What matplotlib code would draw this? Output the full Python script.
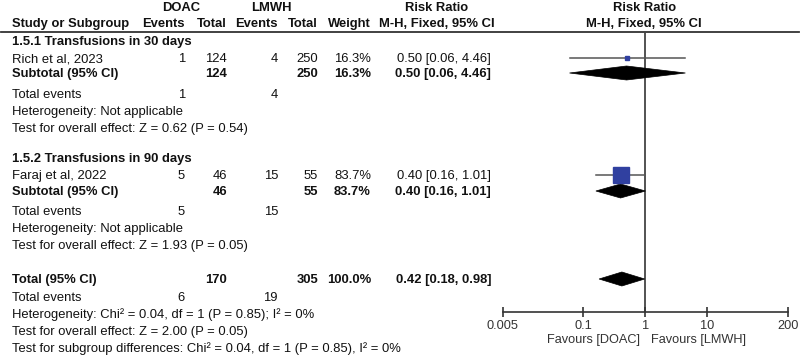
import matplotlib.pyplot as plt
from matplotlib.patches import Polygon

plt.rcParams['font.family'] = ['Liberation Sans', 'DejaVu Sans']

# study rows
studies = ["Rich et al, 2023", "Faraj et al, 2022"]
doac_events = [1, 5]
doac_total = [124, 46]
lmwh_events = [4, 15]
lmwh_total = [250, 55]
weights = [16.3, 83.7]
rr = [0.50, 0.40]
ci_low = [0.06, 0.16]
ci_high = [4.46, 1.01]

# subgroups
subgroups = ["1.5.1 Transfusions in 30 days", "1.5.2 Transfusions in 90 days"]
sub_rr = [0.50, 0.40]
sub_low = [0.06, 0.16]
sub_high = [4.46, 1.01]
sub_tests = ["Test for overall effect: Z = 0.62 (P = 0.54)",
             "Test for overall effect: Z = 1.93 (P = 0.05)"]

# overall
total_doac, total_lmwh = 170, 305
total_events = (6, 19)
total_rr, total_low, total_high = 0.42, 0.18, 0.98
footer = ["Heterogeneity: Chi\u00b2 = 0.04, df = 1 (P = 0.85); I\u00b2 = 0%",
          "Test for overall effect: Z = 2.00 (P = 0.05)",
          "Test for subgroup differences: Chi\u00b2 = 0.04, df = 1 (P = 0.85), I\u00b2 = 0%"]

xticks = [0.005, 0.1, 1, 10, 200]
xticklabels = ["0.005", "0.1", "1", "10", "200"]

fs = 9.4
txt = '#111111'
fig = plt.figure(figsize=(8, 3.57), dpi=100)
ax = fig.add_axes([0, 0, 1, 1])
ax.set_xlim(0, 800)
ax.set_ylim(357, 0)
ax.axis('off')

# column x positions (right edges)
x_name, x_ev1, x_tot1, x_ev2, x_tot2, x_w, x_rr = 12, 185, 227, 278, 318, 371, 491


def t(x, y, s, ha='left', bold=False, size=fs, color=txt):
    ax.text(x, y + 1, s, ha=ha, va='center', fontsize=size,
            fontweight='bold' if bold else 'normal', color=color)


# header
t(181, 7, "DOAC", ha='center', bold=True)
t(271, 7, "LMWH", ha='center', bold=True)
t(437, 7, "Risk Ratio", ha='center', bold=True)
t(645, 7, "Risk Ratio", ha='center', bold=True)
t(x_name, 23, "Study or Subgroup", bold=True)
for x, s in [(x_ev1, "Events"), (x_tot1, "Total"), (x_ev2, "Events"),
             (x_tot2, "Total"), (x_w, "Weight")]:
    t(x, 23, s, ha='right', bold=True)
t(437, 23, "M-H, Fixed, 95% CI", ha='center', bold=True)
t(644, 23, "M-H, Fixed, 95% CI", ha='center', bold=True)
ax.plot([1, 799], [32, 32], color='#333333', lw=1.3)

# forest axes: y in image pixels
y_axis = 311.7
fa = fig.add_axes([502.7 / 800, (357 - y_axis) / 357, 285 / 800, (y_axis - 32) / 357])
fa.set_xscale('log')
fa.set_xlim(0.005, 200)
fa.set_ylim(y_axis, 32)
fa.patch.set_alpha(0)
for s in ['left', 'right', 'top']:
    fa.spines[s].set_visible(False)
fa.spines['bottom'].set_color('#333333')
fa.spines['bottom'].set_linewidth(1.2)
fa.set_yticks([])
fa.set_xticks(xticks)
fa.set_xticklabels(xticklabels)
fa.minorticks_off()
fa.tick_params(axis='x', direction='inout', length=7, width=1.2, color='#333333',
               labelsize=9.2, labelcolor='#333333', pad=2.5)
fa.axvline(1, color='#444444', lw=1.3, zorder=1)


def diamond(y, est, lo, hi):
    h = 7
    fa.add_patch(Polygon([(lo, y), (est, y - h), (hi, y), (est, y + h)],
                         closed=True, facecolor='black', edgecolor='black', lw=0.5, zorder=3))


sec_y = [(41, 58, 73, 94, 111, 128), (158, 175, 191, 211, 228, 245)]
for i, (yh, ys, ysub, yte, yhet, ytest) in enumerate(sec_y):
    t(x_name, yh, subgroups[i], bold=True)
    t(x_name, ys, studies[i])
    t(x_ev1, ys, str(doac_events[i]), ha='right')
    t(x_tot1, ys, str(doac_total[i]), ha='right')
    t(x_ev2, ys, str(lmwh_events[i]), ha='right')
    t(x_tot2, ys, str(lmwh_total[i]), ha='right')
    t(x_w, ys, f"{weights[i]:.1f}%", ha='right')
    t(x_rr, ys, f"{rr[i]:.2f} [{ci_low[i]:.2f}, {ci_high[i]:.2f}]", ha='right')
    t(x_name, ysub, "Subtotal (95% CI)", bold=True)
    t(x_tot1, ysub, str(doac_total[i]), ha='right', bold=True)
    t(x_tot2, ysub, str(lmwh_total[i]), ha='right', bold=True)
    t(x_w, ysub, f"{weights[i]:.1f}%", ha='right', bold=True)
    t(x_rr, ysub, f"{sub_rr[i]:.2f} [{sub_low[i]:.2f}, {sub_high[i]:.2f}]", ha='right', bold=True)
    t(x_name, yte, "Total events")
    t(x_ev1, yte, str(doac_events[i]), ha='right')
    t(x_ev2, yte, str(lmwh_events[i]), ha='right')
    t(x_name, yhet, "Heterogeneity: Not applicable")
    t(x_name, ytest, sub_tests[i])

    # forest marks
    fa.plot([ci_low[i], ci_high[i]], [ys, ys], color='#555555', lw=1.1, zorder=2)
    side = 2 + 14 * weights[i] / 83.7
    fa.plot([rr[i]], [ys], marker='s', markersize=side * 0.72, color='#3040A0',
            markeredgecolor='#3040A0', zorder=4)
    diamond(ysub, sub_rr[i], sub_low[i], sub_high[i])

# overall
t(x_name, 279, "Total (95% CI)", bold=True)
t(x_tot1, 279, str(total_doac), ha='right', bold=True)
t(x_tot2, 279, str(total_lmwh), ha='right', bold=True)
t(x_w, 279, "100.0%", ha='right', bold=True)
t(x_rr, 279, f"{total_rr:.2f} [{total_low:.2f}, {total_high:.2f}]", ha='right', bold=True)
diamond(279, total_rr, total_low, total_high)
t(x_name, 297, "Total events")
t(x_ev1, 297, str(total_events[0]), ha='right')
t(x_ev2, 297, str(total_events[1]), ha='right')
for k, line in enumerate(footer):
    t(x_name, 314 + 17 * k, line)

t(640, 339, "Favours [DOAC]", ha='right', color='#333333', size=9.2)
t(651, 339, "Favours [LMWH]", ha='left', color='#333333', size=9.2)

fig.savefig('out.png', dpi=100)
